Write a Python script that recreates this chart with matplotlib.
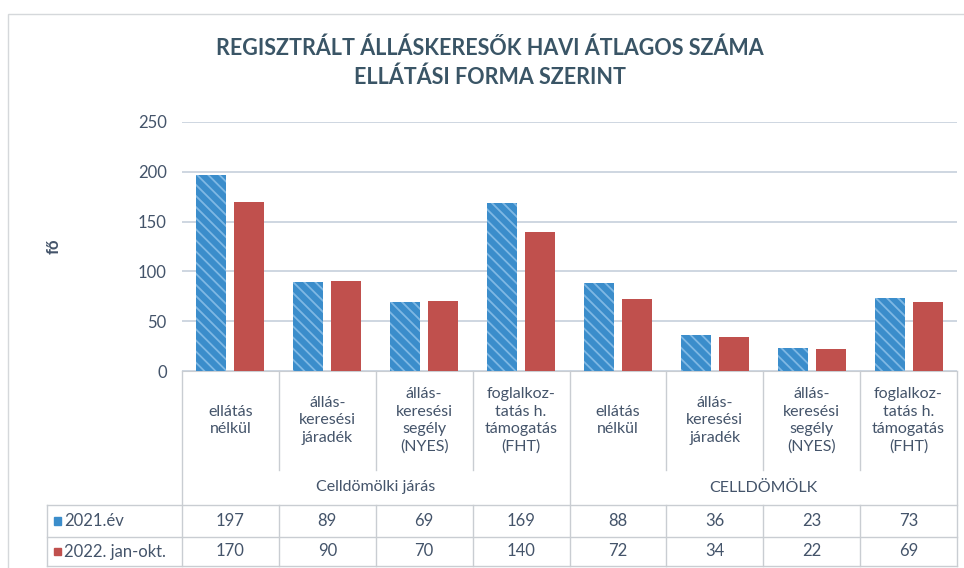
import numpy as np
import matplotlib.pyplot as plt
from matplotlib.patches import Rectangle

plt.rcParams['font.family'] = ['Lato', 'DejaVu Sans']
plt.rcParams['hatch.linewidth'] = 1.3

# adatok
categories = ['ellátás\nnélkül', 'állás-\nkeresési\njáradék', 'állás-\nkeresési\nsegély\n(NYES)',
              'foglalkoz-\ntatás h.\ntámogatás\n(FHT)'] * 2
groups = ['Celldömölki járás', 'CELLDÖMÖLK']
series_names = ['2021.év', '2022. jan-okt.']
v2021 = [197, 89, 69, 169, 88, 36, 23, 73]
v2022 = [170, 90, 70, 140, 72, 34, 22, 69]
yticks = [0, 50, 100, 150, 200, 250]

blue = '#3b8dcb'
red = '#c0504d'
txt = '#44546a'
line_c = '#c9cdd2'
fs = 11.5

fig = plt.figure(figsize=(9.64, 5.68), dpi=100)
ax = fig.add_axes([182 / 964, 1 - 371 / 568, 775 / 964, 249 / 568])

n = len(categories)
x = np.arange(n) + 0.5
w = 0.31
ax.bar(x - 0.196, v2021, w, color=blue, hatch='\\\\\\', edgecolor='#7fb8e4', linewidth=0, zorder=3)
ax.bar(x + 0.196, v2022, w, color=red, linewidth=0, zorder=3)

ax.set_xlim(0, n)
ax.set_ylim(0, 250)
ax.set_yticks(yticks)
ax.set_xticks([])
ax.tick_params(axis='y', length=0, labelsize=12, labelcolor=txt, pad=11)
ax.grid(axis='y', color='#c6d0db', linewidth=1.2, zorder=0)
for s in ['left', 'right', 'top']:
    ax.spines[s].set_visible(False)
ax.spines['bottom'].set_color(line_c)
ax.set_ylabel('fő', fontsize=12, fontweight='bold', color=txt, labelpad=55)

fig.text(0.508, 1 - 63 / 568, 'REGISZTRÁLT ÁLLÁSKERESŐK HAVI ÁTLAGOS SZÁMA\nELLÁTÁSI FORMA SZERINT',
         ha='center', va='center', fontsize=15.5, fontweight='bold', color='#3a5566',
         linespacing=1.45)

# táblázat
tr = ax.get_xaxis_transform()
y_cat = -99 / 249
y_grp = -134 / 249
y_r1 = -166 / 249
y_r2 = -195 / 249
x_leg = -1.39

def hline(x0, x1, y):
    ax.plot([x0, x1], [y, y], color=line_c, lw=1, transform=tr, clip_on=False)

def vline(xx, y0, y1):
    ax.plot([xx, xx], [y0, y1], color=line_c, lw=1, transform=tr, clip_on=False)

for i in range(n + 1):
    if i in (0, 4, 8):
        vline(i, 0, y_r2)
    else:
        vline(i, 0, y_cat)
        vline(i, y_grp, y_r2)
vline(x_leg, y_grp, y_r2)
hline(x_leg, n, y_grp)
hline(x_leg, n, y_r1)
hline(x_leg, n, y_r2)

for i, c in enumerate(categories):
    ax.text(x[i], y_cat / 2, c, transform=tr, ha='center', va='center',
            fontsize=fs, color=txt, linespacing=1.3)
for g, gname in enumerate(groups):
    ax.text(g * 4 + 2, (y_cat + y_grp) / 2, gname, transform=tr, ha='center', va='center',
            fontsize=fs, color=txt)

rows = [(v2021, blue, (y_grp + y_r1) / 2), (v2022, red, (y_r1 + y_r2) / 2)]
for (vals, col, yy), name in zip(rows, series_names):
    for i, v in enumerate(vals):
        ax.text(x[i], yy, str(v), transform=tr, ha='center', va='center', fontsize=12, color=txt)
    ax.add_patch(Rectangle((x_leg + 0.07, yy - 0.016), 0.075, 0.032, transform=tr,
                           color=col, clip_on=False))
    ax.text(x_leg + 0.17, yy, name, transform=tr, ha='left', va='center', fontsize=12, color=txt)

# keret
fig.patches.append(Rectangle((8 / 964, -0.01), 2, 1 - 14 / 568 + 0.01, transform=fig.transFigure,
                             fill=False, edgecolor='#d5d8db', lw=1))

fig.savefig('out.png', dpi=100)
